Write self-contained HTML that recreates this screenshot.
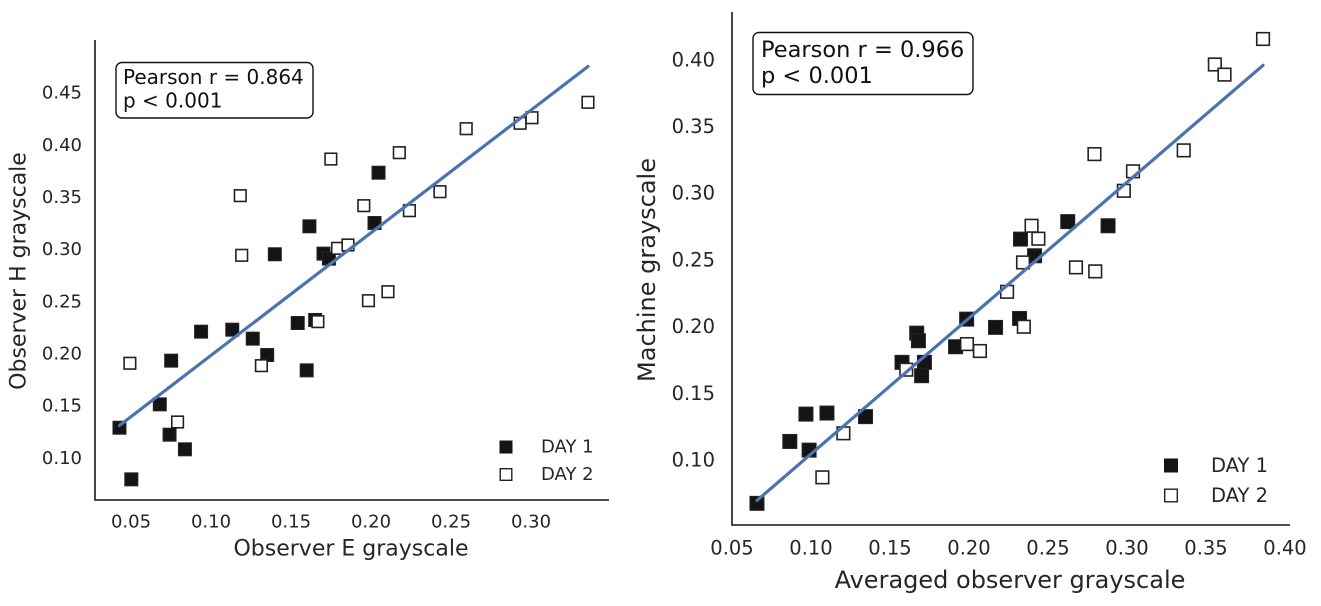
<!DOCTYPE html>
<html><head><meta charset="utf-8">
<style>
html,body{margin:0;padding:0;background:#fff;}
svg{display:block;font-family:"DejaVu Sans","Liberation Sans",sans-serif;}
</style></head>
<body>
<svg id="fig" width="1321" height="606" viewBox="0 0 1321 606" xmlns="http://www.w3.org/2000/svg">
<g id="left"></g>
<g id="right"></g>
</svg>
<script>
// ---- Left chart data ----
const leftXTicks = [0.05, 0.10, 0.15, 0.20, 0.25, 0.30];
const leftYTicks = [0.10, 0.15, 0.20, 0.25, 0.30, 0.35, 0.40, 0.45];
const leftDay1X = [0.0428,0.0502,0.0680,0.0751,0.0741,0.0837,0.0938,0.1133,0.1261,0.1351,0.1399,0.1542,0.1598,0.1615,0.1651,0.1703,0.1737,0.2022,0.2047];
const leftDay1Y = [0.1293,0.0798,0.1517,0.1936,0.1226,0.1086,0.2214,0.2233,0.2147,0.1990,0.2956,0.2297,0.1843,0.3224,0.2326,0.2962,0.2914,0.3256,0.3738];
const leftDay2X = [0.0493,0.0791,0.1183,0.1192,0.1315,0.1668,0.1749,0.1791,0.1856,0.1955,0.1984,0.2106,0.2177,0.2240,0.2431,0.2595,0.2932,0.3006,0.3356];
const leftDay2Y = [0.1911,0.1348,0.3518,0.2946,0.1888,0.2310,0.3869,0.3013,0.3045,0.3422,0.2511,0.2597,0.3930,0.3374,0.3556,0.4160,0.4212,0.4265,0.4413];
const leftStats = ["Pearson r = 0.864", "p < 0.001"];

// ---- Right chart data ----
const rightXTicks = [0.05, 0.10, 0.15, 0.20, 0.25, 0.30, 0.35, 0.40];
const rightYTicks = [0.10, 0.15, 0.20, 0.25, 0.30, 0.35, 0.40];
const rightDay1X = [0.0658,0.0866,0.0968,0.1101,0.0988,0.1345,0.1576,0.1669,0.1680,0.1718,0.1700,0.1915,0.1985,0.2168,0.2320,0.2326,0.2415,0.2625,0.2880];
const rightDay1Y = [0.0675,0.1139,0.1344,0.1352,0.1074,0.1325,0.1732,0.1951,0.1894,0.1732,0.1632,0.1849,0.2056,0.1994,0.2061,0.2656,0.2531,0.2787,0.2756];
const rightDay2X = [0.1072,0.1205,0.1603,0.1987,0.2069,0.2241,0.2347,0.2342,0.2396,0.2439,0.2677,0.2799,0.2794,0.2980,0.3038,0.3359,0.3556,0.3617,0.3861];
const rightDay2Y = [0.0870,0.1200,0.1677,0.1869,0.1817,0.2261,0.1999,0.2481,0.2756,0.2659,0.2444,0.2414,0.3293,0.3018,0.3164,0.3321,0.3965,0.3889,0.4156];
const rightStats = ["Pearson r = 0.966", "p < 0.001"];

const NS = "http://www.w3.org/2000/svg";
function mk(parent, tag, attrs, text) {
  const el = document.createElementNS(NS, tag);
  for (const k in attrs) el.setAttribute(k, attrs[k]);
  if (text !== undefined) el.textContent = text;
  parent.appendChild(el);
  return el;
}
function fit(xs, ys) {
  const n = xs.length;
  let mx = 0, my = 0;
  for (let i = 0; i < n; i++) { mx += xs[i]; my += ys[i]; }
  mx /= n; my /= n;
  let sxy = 0, sxx = 0;
  for (let i = 0; i < n; i++) { sxy += (xs[i]-mx)*(ys[i]-my); sxx += (xs[i]-mx)*(xs[i]-mx); }
  const b = sxy / sxx;
  return { b: b, a: my - b*mx };
}

function drawChart(g, cfg) {
  const xS = v => cfg.x0 + (v - cfg.xv0) * cfg.xk;
  const yS = v => cfg.y0 - (v - cfg.yv0) * cfg.yk;

  const ax = mk(g, "path", {d: `M${cfg.left} ${cfg.top} L${cfg.left} ${cfg.bottom} L${cfg.right} ${cfg.bottom}`, fill: "none", stroke: "#333", "stroke-width": 1.8});
  
  

  cfg.xTicks.forEach(v => {
    const t = mk(g, "text", {x: xS(v), y: cfg.xLabelY, "text-anchor": "middle", "font-size": cfg.tickFs, fill: "#262626", "dominant-baseline": "central"}, v.toFixed(2));
    
    
  });
  cfg.yTicks.forEach(v => {
    const t = mk(g, "text", {x: cfg.yLabelX, y: yS(v), "text-anchor": "end", "font-size": cfg.tickFs, fill: "#262626", "dominant-baseline": "central"}, v.toFixed(2));
    
    
  });

  const xt = mk(g, "text", {x: cfg.xTitle[0], y: cfg.xTitle[1], "text-anchor": "middle", "font-size": cfg.titleFs, fill: "#262626", "dominant-baseline": "central"}, cfg.xTitleText);
  
  
  const yt = mk(g, "text", {x: 0, y: 0, "text-anchor": "middle", "font-size": cfg.titleFs, fill: "#262626", "dominant-baseline": "central", transform: `translate(${cfg.yTitle[0]},${cfg.yTitle[1]}) rotate(-90)`}, cfg.yTitleText);
  
  

  const ms = cfg.ms;
  const d1 = mk(g, "g", {});
  
  
  cfg.d1x.forEach((v, i) => {
    const r = mk(d1, "rect", {x: xS(v)-ms/2, y: yS(cfg.d1y[i])-ms/2, width: ms, height: ms, fill: "#141414", stroke: "#262626", "stroke-width": 1});
    
    
  });
  const d2 = mk(g, "g", {});
  
  
  cfg.d2x.forEach((v, i) => {
    const r = mk(d2, "rect", {x: xS(v)-ms/2+0.7, y: yS(cfg.d2y[i])-ms/2+0.7, width: ms-1.4, height: ms-1.4, fill: "#fff", stroke: "#222", "stroke-width": 1.6});
    
    
  });

  const ax2 = cfg.d1x.concat(cfg.d2x), ay2 = cfg.d1y.concat(cfg.d2y);
  const f = fit(ax2, ay2);
  const xmin = Math.min(...ax2), xmax = Math.max(...ax2);
  const ln = mk(g, "line", {x1: xS(xmin), y1: yS(f.a + f.b*xmin), x2: xS(xmax), y2: yS(f.a + f.b*xmax), stroke: "#4c72b0", "stroke-width": 3.2, "stroke-linecap": "round"});
  
  

  const b = cfg.box;
  const bx = mk(g, "rect", {x: b[0], y: b[1], width: b[2], height: b[3], rx: 6, fill: "#fff", stroke: "#111", "stroke-width": 1.4});
  
  
  cfg.stats.forEach((s, i) => {
    const t = mk(g, "text", {x: cfg.boxText[0], y: cfg.boxText[1] + i*cfg.boxLine, "font-size": cfg.boxFs, fill: "#111"}, s);
    
    
  });

  const lg = mk(g, "g", {});
  
  
  const lm = cfg.legMs;
  const m1 = mk(lg, "rect", {x: cfg.leg[0]-lm/2, y: cfg.leg[1]-lm/2, width: lm, height: lm, fill: "#141414"});
  
  
  const m2 = mk(lg, "rect", {x: cfg.leg[0]-lm/2+0.7, y: cfg.leg[2]-lm/2+0.7, width: lm-1.4, height: lm-1.4, fill: "#fff", stroke: "#222", "stroke-width": 1.4});
  
  
  const t1 = mk(lg, "text", {x: cfg.leg[3], y: cfg.leg[1], "font-size": cfg.legFs, fill: "#262626", "dominant-baseline": "central"}, "DAY 1");
  
  
  const t2 = mk(lg, "text", {x: cfg.leg[3], y: cfg.leg[2], "font-size": cfg.legFs, fill: "#262626", "dominant-baseline": "central"}, "DAY 2");
  
  
}

drawChart(document.getElementById("left"), {
  left: 95, right: 609, top: 40, bottom: 500,
  x0: 131, xv0: 0.05, xk: 1600,
  y0: 500, yv0: 0.06, yk: 1043,
  xTicks: leftXTicks, yTicks: leftYTicks,
  xLabelY: 522, yLabelX: 82, tickFs: 18,
  xTitleText: "Observer E grayscale", xTitle: [351, 549],
  yTitleText: "Observer H grayscale", yTitle: [19, 271], titleFs: 22,
  d1x: leftDay1X, d1y: leftDay1Y, d2x: leftDay2X, d2y: leftDay2Y, ms: 13,
  box: [116, 62.5, 197, 55.5], boxText: [123, 84], boxLine: 23.5, boxFs: 20, stats: leftStats,
  leg: [506, 447, 474.5, 541], legMs: 13, legFs: 18
});
drawChart(document.getElementById("right"), {
  left: 732, right: 1290, top: 12, bottom: 525,
  x0: 732, xv0: 0.05, xk: 1580,
  y0: 526.7, yv0: 0.05, yk: 1334,
  xTicks: rightXTicks, yTicks: rightYTicks,
  xLabelY: 548, yLabelX: 715, tickFs: 19.5,
  xTitleText: "Averaged observer grayscale", xTitle: [1010, 580],
  yTitleText: "Machine grayscale", yTitle: [647, 270], titleFs: 24,
  d1x: rightDay1X, d1y: rightDay1Y, d2x: rightDay2X, d2y: rightDay2Y, ms: 14,
  box: [753, 32.5, 220, 62], boxText: [761, 57], boxLine: 26, boxFs: 22.5, stats: rightStats,
  leg: [1171, 465.5, 495.5, 1211], legMs: 14, legFs: 19.5
});
</script>
</body></html>
